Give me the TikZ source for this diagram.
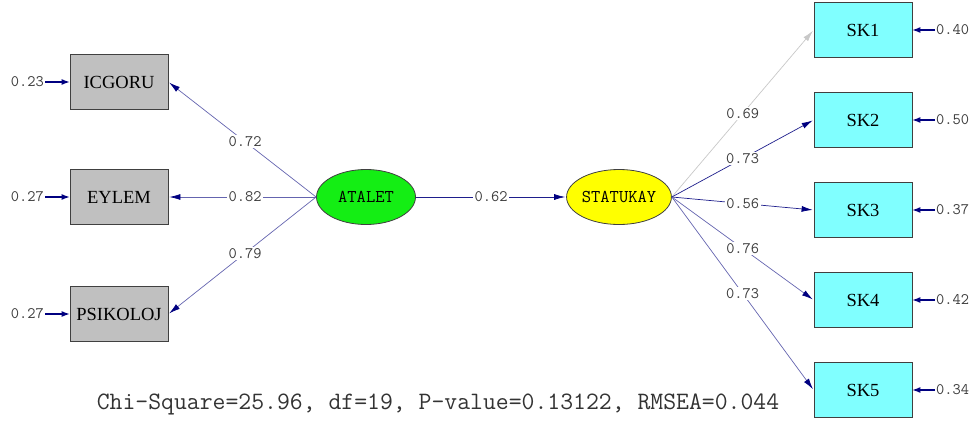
\documentclass[tikz,border=0pt]{standalone}
\usepackage{fontspec}
\setmainfont{Liberation Serif}
\usetikzlibrary{arrows.meta,shapes.geometric}

\definecolor{boxgray}{RGB}{192,192,192}
\definecolor{boxcyan}{RGB}{128,255,255}
\definecolor{latgreen}{RGB}{20,238,20}
\definecolor{latyellow}{RGB}{255,255,0}
\definecolor{tipnavy}{RGB}{0,0,128}
\definecolor{lineblue}{RGB}{100,100,175}
\definecolor{linedark}{RGB}{30,30,140}
\definecolor{linegray}{RGB}{200,200,200}
\definecolor{labelgray}{RGB}{60,60,60}

\tikzset{
  obsbox/.style={draw=black!75, line width=0.8pt, minimum width=98pt,
    minimum height=55pt, inner sep=0pt, font=\fontsize{18.5}{18.5}\selectfont},
  latvar/.style={ellipse, draw=black!75, line width=0.8pt, minimum width=99pt,
    minimum height=55pt, inner sep=0pt, font=\ttfamily\fontsize{18}{18}\selectfont},
  coef/.style={fill=white, inner sep=1.5pt, text=labelgray,
    font=\ttfamily\fontsize{16}{16}\selectfont},
  errlbl/.style={inner sep=1pt, text=labelgray,
    font=\ttfamily\fontsize{16}{16}\selectfont},
  loading/.style={draw=#1, line width=0.7pt, shorten >=1pt,
    -{Latex[length=11pt,width=6pt,color=tipnavy]}},
  loading/.default=lineblue,
  errarrow/.style={draw=tipnavy, line width=1.1pt,
    -{Latex[length=8pt,width=6pt]}}
}

\begin{document}
\begin{tikzpicture}[x=1pt,y=-1pt]
\useasboundingbox (0,0) rectangle (975,421);

% observed indicators of ATALET
\node[obsbox, fill=boxgray] (icg) at (119,82)  {ICGORU};
\node[obsbox, fill=boxgray] (eyl) at (119,197) {EYLEM};
\node[obsbox, fill=boxgray] (psi) at (119,314) {PSIKOLOJ};

% latent variables
\node[latvar, fill=latgreen]  (atl) at (366,197) {ATALET};
\node[latvar, fill=latyellow] (sta) at (619,197) {STATUKAY};

% observed indicators of STATUKAY
\node[obsbox, fill=boxcyan] (sk1) at (863,30)  {SK1};
\node[obsbox, fill=boxcyan] (sk2) at (863,120) {SK2};
\node[obsbox, fill=boxcyan] (sk3) at (863,210) {SK3};
\node[obsbox, fill=boxcyan] (sk4) at (863,300) {SK4};
\node[obsbox, fill=boxcyan] (sk5) at (863,390) {SK5};

% error variances, left side
\node[errlbl, anchor=east] (eicg) at (45,82)  {0.23};
\node[errlbl, anchor=east] (eeyl) at (45,197) {0.27};
\node[errlbl, anchor=east] (epsi) at (45,314) {0.27};
\draw[errarrow] (eicg) -- (icg);
\draw[errarrow] (eeyl) -- (eyl);
\draw[errarrow] (epsi) -- (psi);

% error variances, right side
\node[errlbl, anchor=west] (esk1) at (935,30)  {0.40};
\node[errlbl, anchor=west] (esk2) at (935,120) {0.50};
\node[errlbl, anchor=west] (esk3) at (935,210) {0.37};
\node[errlbl, anchor=west] (esk4) at (935,300) {0.42};
\node[errlbl, anchor=west] (esk5) at (935,390) {0.34};
\draw[errarrow] (esk1) -- (sk1);
\draw[errarrow] (esk2) -- (sk2);
\draw[errarrow] (esk3) -- (sk3);
\draw[errarrow] (esk4) -- (sk4);
\draw[errarrow] (esk5) -- (sk5);

% loadings of ATALET
\draw[loading] (atl.west) -- node[coef, pos=0.48] {0.72} (icg.east);
\draw[loading] (atl.west) -- node[coef, pos=0.48] {0.82} (eyl.east);
\draw[loading] (atl.west) -- node[coef, pos=0.48] {0.79} (psi.east);

% structural path
\draw[loading=linedark] (atl.east) -- node[coef, pos=0.5] {0.62} (sta.west);

% loadings of STATUKAY
\draw[draw=linegray, line width=0.7pt, shorten >=1pt,
  -{Latex[length=11pt,width=6pt,color=linegray]}]
  (sta.east) -- node[coef, pos=0.5] {0.69} (sk1.west);
\draw[loading=linedark] (sta.east) -- node[coef, pos=0.5] {0.73} (sk2.west);
\draw[loading=linedark] (sta.east) -- node[coef, pos=0.5] {0.56} (sk3.west);
\draw[loading] (sta.east) -- node[coef, pos=0.5] {0.76} (sk4.west);
\draw[loading] (sta.east) -- node[coef, pos=0.5] {0.73} (sk5.west);

% fit statistics
\node[text=black!80, font=\ttfamily\fontsize{25}{25}\selectfont]
  (fit) at (438,404) {Chi-Square=25.96, df=19, P-value=0.13122, RMSEA=0.044};
\end{tikzpicture}
\end{document}
